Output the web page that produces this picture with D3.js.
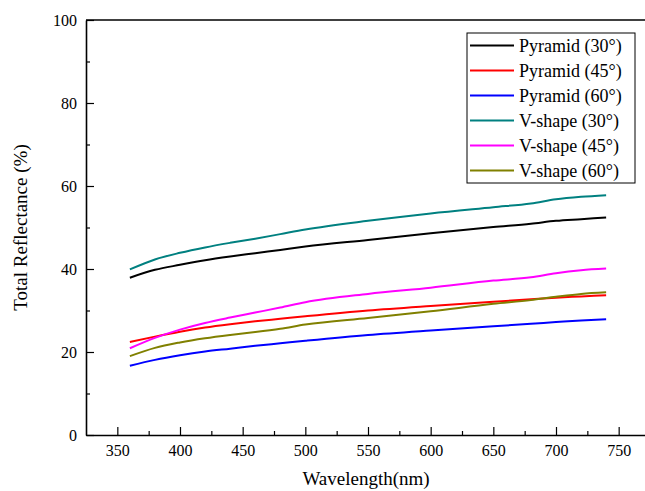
<!DOCTYPE html>
<html>
<head>
<meta charset="utf-8">
<script src="https://cdn.jsdelivr.net/npm/d3@7"></script>
<style>
  body { margin: 0; background: #fff; }
</style>
</head>
<body>
<div id="graph"></div>
<script>
const wavelength = [360, 380, 400, 420, 440, 460, 480, 500, 550, 600, 650, 680, 700, 720, 740];
const pyramid30 = [37.9, 39.8, 41.0, 42.1, 43.0, 43.8, 44.6, 45.4, 47.0, 48.6, 50.1, 50.9, 51.6, 52.0, 52.4];
const pyramid45 = [22.4, 23.7, 24.9, 25.9, 26.7, 27.4, 28.0, 28.6, 30.0, 31.1, 32.1, 32.7, 33.1, 33.4, 33.7];
const pyramid60 = [16.7, 18.1, 19.2, 20.1, 20.8, 21.5, 22.1, 22.7, 24.1, 25.2, 26.2, 26.8, 27.2, 27.6, 27.9];
const vshape30 = [39.9, 42.3, 43.9, 45.2, 46.3, 47.3, 48.4, 49.5, 51.6, 53.4, 54.9, 55.8, 56.8, 57.4, 57.8];
const vshape45 = [20.9, 23.4, 25.4, 27.0, 28.3, 29.5, 30.7, 32.0, 34.0, 35.5, 37.2, 38.0, 39.0, 39.7, 40.1];
const vshape60 = [19.0, 21.0, 22.3, 23.3, 24.1, 24.8, 25.6, 26.6, 28.2, 29.8, 31.6, 32.5, 33.3, 34.0, 34.4];

const seriesNames = ["Pyramid (30°)", "Pyramid (45°)", "Pyramid (60°)", "V-shape (30°)", "V-shape (45°)", "V-shape (60°)"];
const seriesValues = [pyramid30, pyramid45, pyramid60, vshape30, vshape45, vshape60];
const colors = ["#000000", "#ff0000", "#0000ff", "#008080", "#ff00ff", "#808000"];

const xTicks = [350, 400, 450, 500, 550, 600, 650, 700, 750];
const yTicks = [0, 20, 40, 60, 80, 100];

const FONT = "Liberation Serif, Times New Roman, Times, serif";
const W = 645, H = 491;
const margin = { top: 20, left: 86, bottom: 56 };
const plotRight = 650;

const svg = d3.select("#graph").append("svg")
  .attr("width", W)
  .attr("height", H)
  .attr("font-family", FONT);

const x = d3.scaleLinear().domain([325, 775]).range([margin.left, plotRight]);
const y = d3.scaleLinear().domain([0, 100]).range([H - margin.bottom, margin.top]);

// minor ticks
const xMinor = d3.range(375, 775, 50);
const yMinor = d3.range(10, 100, 20);

const xAxis = svg.append("g")
  .attr("transform", "translate(0," + y(0) + ")")
  .call(d3.axisBottom(x).tickValues(xTicks).tickSizeInner(-8).tickSizeOuter(0).tickFormat(d3.format("d")));
xAxis.selectAll(".tick text").attr("y", 10).attr("dy", "0.71em");
svg.append("g")
  .attr("transform", "translate(0," + y(0) + ")")
  .call(d3.axisBottom(x).tickValues(xMinor).tickSizeInner(-4).tickSizeOuter(0).tickFormat(""))
  .select(".domain").remove();

const yAxis = svg.append("g")
  .attr("transform", "translate(" + margin.left + ",0)")
  .call(d3.axisLeft(y).tickValues(yTicks).tickSizeInner(-8).tickSizeOuter(0));
yAxis.selectAll(".tick text").attr("x", -9);
svg.append("g")
  .attr("transform", "translate(" + margin.left + ",0)")
  .call(d3.axisLeft(y).tickValues(yMinor).tickSizeInner(-4).tickSizeOuter(0).tickFormat(""))
  .select(".domain").remove();

svg.selectAll("g").attr("font-family", FONT);
svg.selectAll(".domain").attr("stroke", "#000").attr("stroke-width", 1.6);
svg.selectAll(".tick line").attr("stroke", "#000").attr("stroke-width", 1.2);
svg.selectAll(".tick text").attr("fill", "#000").attr("font-size", 16);

// top frame line
svg.append("line")
  .attr("x1", margin.left).attr("x2", plotRight)
  .attr("y1", y(100)).attr("y2", y(100))
  .attr("stroke", "#000").attr("stroke-width", 1.6);

// lines
const line = d3.line()
  .x((d, i) => x(wavelength[i]))
  .y(d => y(d))
  .curve(d3.curveMonotoneX);

svg.append("g").selectAll("path")
  .data(seriesValues)
  .join("path")
  .attr("fill", "none")
  .attr("stroke", (d, i) => colors[i])
  .attr("stroke-width", 2)
  .attr("d", line);

// legend
const legend = svg.append("g").attr("transform", "translate(467,33)");
legend.append("rect")
  .attr("width", 168).attr("height", 150)
  .attr("fill", "#fff").attr("stroke", "#000").attr("stroke-width", 1);
const rows = legend.selectAll("g.row")
  .data(seriesNames)
  .join("g")
  .attr("class", "row")
  .attr("transform", (d, i) => "translate(0," + (12.5 + i * 25) + ")");
rows.append("line")
  .attr("x1", 3).attr("x2", 47)
  .attr("stroke", (d, i) => colors[i])
  .attr("stroke-width", 2);
rows.append("text")
  .attr("x", 52).attr("dy", "0.35em")
  .attr("font-size", 18)
  .text(d => d);

// axis titles
svg.append("text")
  .attr("x", 366)
  .attr("y", 485)
  .attr("text-anchor", "middle")
  .attr("font-size", 19)
  .text("Wavelength(nm)");

svg.append("text")
  .attr("transform", "translate(27," + ((y(0) + y(100)) / 2) + ")rotate(-90)")
  .attr("text-anchor", "middle")
  .attr("font-size", 19)
  .text("Total Reflectance (%)");
</script>
</body>
</html>
